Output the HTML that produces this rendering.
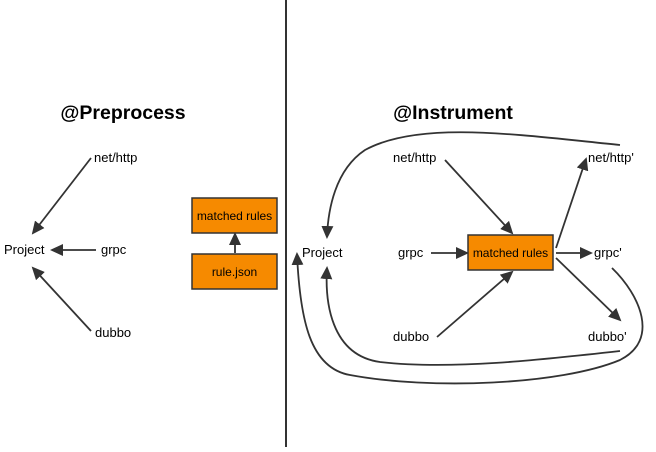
<!DOCTYPE html>
<html><head><style>
body{margin:0;background:#fff;}
svg text{font-family:"Liberation Sans",Arial,sans-serif;font-size:13px;fill:#000;}
</style></head><body>
<svg width="656" height="447" viewBox="0 0 656 447" xmlns="http://www.w3.org/2000/svg">
<defs><marker id="a" markerWidth="13" markerHeight="12" refX="11" refY="6" orient="auto" markerUnits="userSpaceOnUse"><path d="M0,0 L13,6 L0,12 z" fill="#333"/></marker></defs>
<line x1="286" y1="0" x2="286" y2="447" stroke="#333" stroke-width="2"/>
<text x="123" y="119" text-anchor="middle" style="font-weight:bold;font-size:19.5px">@Preprocess</text>
<text x="453" y="119" text-anchor="middle" style="font-weight:bold;font-size:19.5px">@Instrument</text>
<g stroke="#333" stroke-width="1.8" fill="none">
<line x1="91" y1="158" x2="33" y2="233" marker-end="url(#a)"/>
<line x1="96" y1="250" x2="52" y2="250" marker-end="url(#a)"/>
<line x1="91" y1="331" x2="33" y2="268" marker-end="url(#a)"/>
<line x1="235" y1="253" x2="235" y2="234" marker-end="url(#a)"/>
<line x1="445" y1="160" x2="512" y2="233" marker-end="url(#a)"/>
<line x1="431" y1="253" x2="467" y2="253" marker-end="url(#a)"/>
<line x1="437" y1="337" x2="512" y2="272" marker-end="url(#a)"/>
<line x1="556" y1="248" x2="586" y2="159" marker-end="url(#a)"/>
<line x1="556" y1="253" x2="591" y2="253" marker-end="url(#a)"/>
<line x1="556" y1="258" x2="620" y2="320" marker-end="url(#a)"/>
<path d="M620,145 C520,135 420,120 365,150 C335,170 328,210 327,237" marker-end="url(#a)"/>
<path d="M620,351 C540,360 450,370 380,362 C330,355 325,300 327,268" marker-end="url(#a)"/>
<path d="M612,268 C640,295 660,340 620,360 C560,385 430,390 350,375 C310,368 300,320 297,254" marker-end="url(#a)"/>
</g>
<g fill="#f68a00" stroke="#333" stroke-width="1.5">
<rect x="192" y="198" width="85" height="35"/>
<rect x="192" y="254" width="85" height="35"/>
<rect x="468" y="235" width="85" height="35"/>
</g>
<text x="234.5" y="220" text-anchor="middle" style="font-size:12px">matched rules</text>
<text x="234.5" y="276" text-anchor="middle" style="font-size:12px">rule.json</text>
<text x="510.5" y="257" text-anchor="middle" style="font-size:12px">matched rules</text>
<text x="94" y="162">net/http</text>
<text x="4" y="254">Project</text>
<text x="101" y="254">grpc</text>
<text x="95" y="337">dubbo</text>
<text x="393" y="162">net/http</text>
<text x="588" y="162">net/http'</text>
<text x="302" y="257">Project</text>
<text x="398" y="257">grpc</text>
<text x="594" y="257">grpc'</text>
<text x="393" y="341">dubbo</text>
<text x="588" y="341">dubbo'</text>
</svg>
</body></html>
